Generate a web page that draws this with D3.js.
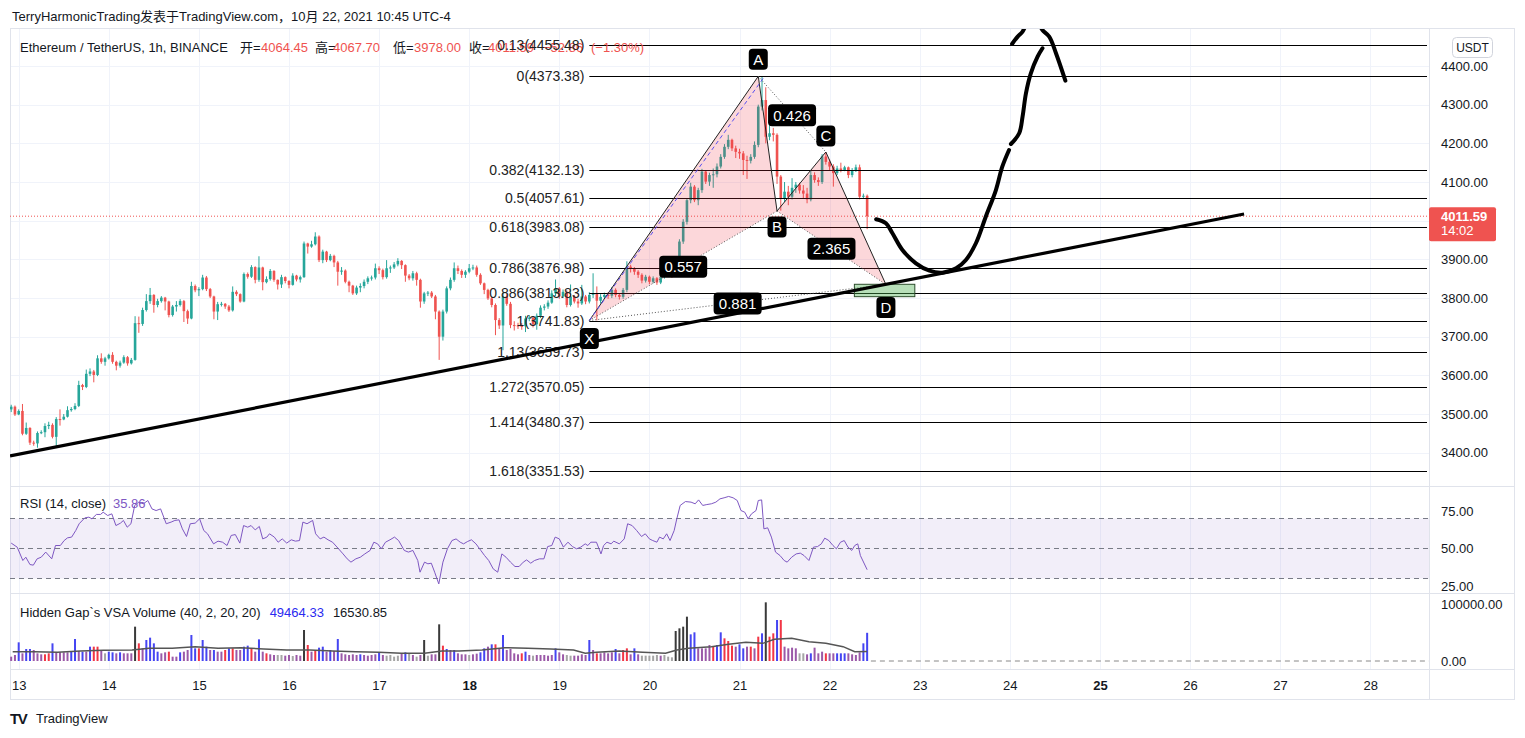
<!DOCTYPE html>
<html><head><meta charset="utf-8">
<script src="https://cdn.jsdelivr.net/npm/d3@7"></script>
<style>
body{margin:0;background:#fff;}
svg{display:block;font-family:"Liberation Sans",Arial,"Noto Sans CJK SC",sans-serif;}
</style></head>
<body><svg id="chart" width="1525" height="738"></svg>
<script>
// ---------------- DATA ----------------
const firstOpen = 3512;
const closes = [
3519,3499,3508,3449,3464,3426,3424,3451,3453,3469,
3472,3441,3487,3486,3493,3510,3513,3521,3575,3570,
3604,3610,3601,3644,3635,3644,3653,3635,3625,3633,
3647,3631,3640,3735,3733,3769,3792,3808,3782,3792,
3801,3791,3756,3778,3782,3792,3766,3747,3831,3820,
3823,3853,3823,3804,3765,3784,3785,3778,3768,3816,
3810,3791,3862,3855,3880,3847,3879,3841,3849,3870,
3847,3835,3854,3844,3834,3858,3848,3854,3941,3933,
3939,3959,3898,3920,3898,3909,3892,3868,3871,3842,
3832,3812,3827,3831,3842,3851,3853,3877,3872,3854,
3877,3879,3887,3896,3885,3858,3851,3864,3847,3791,
3812,3814,3804,3765,3700,3765,3825,3847,3877,3870,
3860,3868,3877,3879,3860,3838,3821,3799,3782,3743,
3729,3804,3785,3730,3729,3728,3727,3747,3749,3732,
3754,3775,3778,3788,3812,3825,3804,3816,3782,3804,
3791,3786,3804,3791,3808,3812,3793,3803,3808,3806,
3821,3808,3803,3821,3881,3877,3868,3860,3845,3855,
3842,3851,3840,3855,3864,3868,3860,3874,3946,3997,
4053,4088,4053,4079,4127,4101,4118,4120,4140,4165,
4191,4209,4187,4178,4174,4157,4155,4165,4196,4295,
4312,4217,4226,4222,4114,4058,4075,4062,4085,4093,
4078,4070,4055,4118,4105,4100,4166,4152,4140,4123,
4135,4131,4138,4118,4130,4138,4062,4064.45,4011.59];
const highs = [
3524,3522,3512,3526,3478,3466,3431,3455,3458,3476,
3480,3476,3492,3512,3500,3520,3518,3528,3586,3578,
3615,3618,3614,3652,3657,3648,3656,3660,3638,3638,
3652,3650,3645,3753,3752,3775,3810,3826,3810,3798,
3805,3803,3793,3782,3792,3797,3795,3770,3842,3835,
3828,3860,3857,3826,3806,3790,3790,3787,3782,3830,
3820,3812,3866,3866,3885,3882,3908,3881,3856,3875,
3872,3848,3860,3856,3846,3864,3860,3858,3946,3943,
3948,3970,3962,3925,3922,3914,3912,3896,3880,3874,
3845,3834,3832,3838,3848,3856,3858,3889,3882,3876,
3898,3884,3893,3903,3898,3887,3862,3870,3868,3850,
3816,3818,3818,3808,3768,3770,3830,3853,3892,3884,
3874,3872,3888,3886,3884,3864,3840,3824,3803,3786,
3748,3815,3810,3790,3740,3736,3735,3754,3756,3752,
3760,3781,3784,3794,3820,3848,3828,3822,3820,3835,
3808,3798,3834,3808,3815,3864,3830,3810,3814,3815,
3828,3825,3812,3826,3895,3886,3880,3872,3864,3860,
3858,3856,3854,3860,3868,3874,3872,3880,3952,4004,
4058,4098,4092,4085,4134,4130,4124,4135,4148,4172,
4198,4222,4212,4194,4186,4180,4168,4172,4205,4300,
4373.38,4345,4282,4240,4226,4118,4100,4090,4110,4100,
4098,4092,4085,4130,4125,4112,4172,4177.6,4158,4146,
4142,4150,4142,4140,4136,4145,4145,4070,4067.70];
const lows = [
3505,3495,3497,3445,3446,3420,3418,3413,3448,3440,
3461,3437,3413,3470,3484,3491,3506,3510,3518,3562,
3567,3598,3582,3598,3630,3625,3641,3630,3613,3620,
3630,3625,3628,3638,3710,3728,3765,3785,3762,3776,
3788,3768,3750,3752,3765,3778,3738,3733,3745,3815,
3805,3820,3818,3800,3745,3743,3778,3772,3764,3765,
3805,3788,3789,3850,3852,3838,3842,3820,3838,3845,
3842,3822,3826,3838,3825,3832,3843,3840,3852,3915,
3930,3936,3893,3890,3893,3895,3880,3832,3860,3838,
3815,3808,3808,3815,3825,3836,3845,3848,3862,3848,
3850,3865,3875,3882,3875,3842,3846,3845,3832,3775,
3785,3805,3800,3745,3640,3690,3760,3820,3842,3862,
3852,3852,3864,3872,3855,3834,3810,3795,3776,3704,
3720,3665,3780,3722,3716,3720,3718,3712,3740,3724,
3718,3748,3768,3772,3785,3805,3798,3800,3776,3778,
3786,3775,3782,3784,3786,3800,3742,3786,3798,3798,
3800,3802,3796,3798,3815,3866,3860,3852,3838,3840,
3836,3838,3834,3836,3850,3858,3852,3856,3870,3940,
3990,4045,4048,4040,4072,4095,4090,4085,4112,4135,
4160,4185,4180,4162,4160,4118,4108,4148,4160,4190,
4285,4200,4208,4205,4095,4026,4048,4040,4055,4072,
4070,4058,4045,4050,4098,4090,4095,4145,4130,4088,
4118,4125,4128,4110,4112,4126,4055,4058,3978.00];

const volumes = [
7600,10530,32750,13450,21050,21050,19300,13450,11700,11700,13450,
30990,15200,15200,15200,15200,16370,38600,17540,16370,16370,25150,
25150,25150,17540,13450,16370,15200,13450,15200,13450,13450,13450,
60230,30990,22220,36840,40940,30990,16370,13450,15200,16370,7600,7600,
15200,16370,19300,45610,22220,22220,36840,25150,19300,19300,16370,
16370,19300,22220,22220,19300,19300,25150,26900,22220,16370,
38010,16370,13450,11700,10530,10530,10530,9360,10530,8770,10530,9360,
54390,28070,16370,19300,23390,25150,16370,19300,17540,38600,13450,
11700,10530,11700,10530,11700,10530,9360,10530,11700,15200,10530,
9360,10530,7600,9360,13450,15200,13450,10530,7600,10530,36840,
9360,11700,11700,64330,26900,21050,19300,19300,13450,11700,11700,
10530,11700,12870,15200,22220,25150,29240,29240,22220,45610,19300,
21050,13450,11700,13450,16370,10530,9360,10530,10530,10530,9360,
10530,22220,15200,11700,10530,9360,9360,9360,11700,10530,
36840,19300,13450,13450,15200,13450,15200,21050,13450,19300,22220,11700,
22220,11700,9360,9360,9360,9360,10530,9360,10530,7600,6430,
52630,57310,60230,77780,46780,50300,22220,22220,22220,28070,25150,
28070,50300,39770,35090,26900,25150,29240,22220,25150,25150,22220,
42690,48540,102920,42690,48540,71930,71930,25150,22220,23390,22220,
13450,13450,11700,13450,23390,13450,16370,13450,13450,13450,13450,
13450,13450,13450,11700,10530,15200,30990,49464.33];
const volumeKinds =
"ppbpbbppprr"+"bppppbbpbpb"+"rrpgbbpbppp"+"krpbbbbpprpp"+"bppbbrbbpbp"+"prbrppbbrp"+
"bprppggppgpp"+"krprbbpbpbp"+"ppppbppppbp"+"ggggpbgpgpk"+"gppkrbpbppp"+"gppbbpbrpbp"+
"ppprbpgpppp"+"pbppggpppp"+"bprppppbprrp"+"bpgggggpggg"+"kkkkbbppppr"+"bbrrrpbbprp"+
"rbkrrbrpppp"+"ggpbppprppb"+"bbppppbb";

const maHours = [-1.6,4.2,10.3,16.4,22.5,30.2,34.7,40.9,47,53.1,59.2,65.3,71.4,77.5,83.6,89.8,95.9,102,108.1,112.7,117.3,123.4,129.5,135.6,141.7,147.8,150.9,153.9,160,166.2,172.3,175.3,178.4,184.5,189.1,193.7,198.2,201.3,205.9,210.5,215,219.6,222.7,226];
const maValues = [16370,16370,15200,17540,18700,19300,22220,22220,25150,22220,23390,21050,19300,19300,17540,16370,15200,13450,13450,17540,17540,19300,23390,22220,21050,19300,13450,15200,17540,15200,13450,19300,22220,25150,29240,32750,30990,38010,39770,33920,30990,25150,16370,16530.85];

const rsiHours = [-2,-0.4,1.1,1.9,3,3.9,4.9,6,7.2,8.8,9.8,11.1,12.1,13,14.1,15.2,16.1,17.6,18.7,19.5,20.7,21.8,22.5,23.7,24.8,25.9,27.1,27.9,28.9,29.9,30.9,32,33.2,34.4,35.5,36.6,37.8,39.3,40.6,41.6,42.7,43.6,44.7,45.7,47,48.2,49.3,50.3,51.9,53.1,54.3,55.5,56.6,57.7,58.9,59.9,61,61.9,63,64.1,65,66.1,66.8,68.1,69.1,70.2,71.4,72.6,73.7,74.8,75.7,76.8,78.3,79.1,80.3,81.3,82.4,83.6,85.2,86.4,87.5,88.5,89.8,91,92.2,93.6,94.6,95.6,96.6,97.7,98.9,100.1,101.2,102.7,103.8,105,106.3,106.9,108.1,109,109.9,110.8,111.9,113,114.2,115.4,116.5,117.6,118.5,119.6,120.6,121.8,123.1,124.1,125.2,126.4,127.6,128.7,129.8,131,132.2,133.3,134.4,135.3,136.4,137.4,138.7,139.9,140.9,142,142.9,144,145.1,146.3,147.5,148.6,149.7,150.9,151.6,152.4,153.9,155.1,155.8,156.7,157.8,158.5,160,161.3,162.2,163.4,164.6,165.9,166.9,168,168.9,170,170.7,171.7,172.6,173.5,174.6,175.3,176.2,177.6,179.1,180.2,181.1,182.2,183.3,184.5,185.7,186.8,187.9,189.1,190.3,191.4,192.4,193.4,194.3,195.2,196.4,197,197.9,198.5,199.5,200.5,201.6,202.8,203.9,204.7,205.9,207.1,208.2,209.2,210.5,211.7,212.8,213.8,214.7,215.8,216.9,217.8,218.9,219.9,220.9,221.9,222.7,223.5,224.2,226];
const rsiValues = [53.6,50.9,42.0,44.2,39.3,38.9,43.1,44.2,47.6,43.1,52.0,52.0,55.3,57.1,57.6,62.0,66.5,70.4,70.9,69.8,72.7,72.7,74.2,72.0,73.1,65.3,66.9,68.7,64.2,66.5,78.7,80.9,79.8,82.0,76.4,75.3,76.4,66.5,67.6,68.7,69.1,63.1,58.0,66.5,66.9,69.8,62.0,59.8,53.1,54.9,54.2,52.0,58.7,59.3,53.6,65.3,64.2,65.3,62.4,64.7,56.4,57.6,59.8,57.6,54.2,56.4,53.6,55.8,54.9,55.3,67.6,66.5,68.7,59.8,56.4,57.6,55.8,54.2,49.8,46.4,43.1,40.9,43.1,44.2,46.4,48.7,54.2,53.1,49.8,54.2,55.8,57.6,55.3,48.7,47.6,48.7,42.0,34.2,40.9,39.8,40.2,34.2,26.4,40.9,49.8,55.3,56.4,54.2,53.1,54.7,55.8,53.1,48.7,45.3,42.0,36.4,34.2,46.4,44.2,40.9,38.0,38.0,40.9,42.4,40.2,42.0,43.1,43.1,51.3,52.0,57.6,56.4,50.9,54.2,51.3,49.8,50.9,53.1,52.0,54.2,54.2,46.4,52.0,54.2,53.1,54.9,53.1,56.4,66.5,65.3,62.0,58.0,59.8,56.4,55.3,54.2,57.6,56.4,59.8,55.3,62.0,69.8,78.7,81.3,80.9,79.8,82.4,78.7,79.3,79.8,80.9,83.1,83.8,84.7,83.8,82.0,75.3,74.2,69.8,73.1,75.3,82.0,82.4,63.1,63.8,57.6,47.6,45.3,42.0,40.9,44.2,46.4,46.9,45.3,42.0,50.9,51.3,53.1,56.9,55.3,52.0,49.8,54.2,55.3,50.9,48.7,52.0,53.1,45.3,35.86];

const fibRatios = ["0.13","0","0.382","0.5","0.618","0.786","0.886","1","1.13","1.272","1.414","1.618"];
const fibPrices = [4455.48,4373.38,4132.13,4057.61,3983.08,3876.98,3813.83,3741.83,3659.73,3570.05,3480.37,3351.53];

const patternNames = ["X","A","B","C","D"];
const patternHours = [152,197,202,215,231];
const patternPrices = [3741.83,4373.38,4025,4177.6,3835];
const ratioLabels = ["0.557","0.426","2.365","0.881"];

const trendHours = [-2.3,326.4];
const trendPrices = [3391.5,4017.3];
const dashHours = [152,198.6];
const dashPrices = [3741.83,4372];
const boxHours = [222.6,238.7];
const boxPrices = [3803.5,3835.5];
const draw1Hours = [228.4,231,232.7,235.4,239,242.6,246,249.7,252.3,255,257.6,260.3,262,263.8];
const draw1Prices = [4003.6,3993.2,3968.1,3924.2,3889.8,3870.6,3865.5,3876.8,3898.3,3942.3,4010.3,4079.3,4139.6,4182.8];
const draw2Hours = [264.3,266.5,267.4,268.3,269.6,271.4,272.7];
const draw2Prices = [4198.3,4226,4268.9,4329.4,4381.1,4424.1,4445.8];
const draw3Hours = [264.6,266.1,267.4,268.8,270.2,271.6,272.7,274.5,276.3,278.8];
const draw3Prices = [4457,4476,4489,4515,4525,4512,4493,4476,4433,4362];

const priceTicks = [3400,3500,3600,3700,3800,3900,4100,4200,4300,4400];
const gridPrices = [3400,3500,3600,3700,3800,3900,4000,4100,4200,4300,4400];
const rsiTicks = [25,50,75];
const volTicks = [0,100000];
const lastPrice = 4011.59;

// ---------------- LAYOUT ----------------
const L = 10, R = 1429, RR = 1514;
const mainT = 29, mainB = 486, rsiT = 487, rsiB = 593, volT = 595, volB = 669, axB = 700;
const TXT = "#131722";
const svg = d3.select("#chart");
const base = Date.UTC(2021, 9, 13);
const hr = h => new Date(base + h * 3600e3);
const x = d3.scaleUtc().domain([hr(0), hr(360)]).range([18.7, 1370.2]);
const y = d3.scaleLinear().domain([3400, 4400]).range([452.7, 66]);
const yR = d3.scaleLinear().domain([25, 75]).range([586, 511]);
const yV = d3.scaleLinear().domain([0, 100000]).range([661, 604]);
const xt = h => x(hr(h));

const defs = svg.append("defs");
function clip(id, x0, y0, x1, y1) {
  defs.append("clipPath").attr("id", id).append("rect")
    .attr("x", x0).attr("y", y0).attr("width", x1 - x0).attr("height", y1 - y0);
}
clip("cMain", L, mainT, R, mainB);
clip("cRsi", L, rsiT, R, rsiB);
clip("cVol", L, volT, R, volB);

svg.append("rect").attr("width", 1525).attr("height", 738).attr("fill", "#fff");

// grid
const days = d3.utcDay.range(hr(0), hr(361));
const grid = svg.append("g").attr("stroke", "#f0f3fa").attr("stroke-width", 1);
days.forEach(d => grid.append("line").attr("x1", Math.round(x(d)) + 0.5).attr("x2", Math.round(x(d)) + 0.5).attr("y1", mainT).attr("y2", volB));
gridPrices.forEach(p => grid.append("line").attr("x1", L).attr("x2", R).attr("y1", Math.round(y(p)) + 0.5).attr("y2", Math.round(y(p)) + 0.5));

// frame
const fr = svg.append("g").attr("stroke", "#e0e3eb").attr("fill", "none");
fr.append("rect").attr("x", L + 0.5).attr("y", mainT - 0.5).attr("width", RR - L).attr("height", axB - mainT);
[mainB + 0.5, volT - 1.5, volB + 0.5].forEach(v => fr.append("line").attr("x1", L).attr("x2", RR).attr("y1", v).attr("y2", v));
fr.append("line").attr("x1", R + 0.5).attr("x2", R + 0.5).attr("y1", mainT).attr("y2", axB);

// ---------------- MAIN PANE ----------------
const main = svg.append("g").attr("clip-path", "url(#cMain)");
const candles = closes.map((c, i) => ({
  t: i - 2, o: i === 0 ? firstOpen : closes[i - 1], c, h: highs[i], l: lows[i]
}));
const cg = main.append("g");
candles.forEach(d => {
  const cx = xt(d.t);
  const col = d.c >= d.o ? "#26a69a" : "#ef5350";
  cg.append("line").attr("x1", cx).attr("x2", cx).attr("y1", y(d.h)).attr("y2", y(d.l))
    .attr("stroke", col).attr("stroke-width", 1);
  const top = y(Math.max(d.o, d.c)), bot = y(Math.min(d.o, d.c));
  cg.append("rect").attr("x", cx - 1.3).attr("width", 2.6).attr("y", top)
    .attr("height", Math.max(1, bot - top)).attr("fill", col);
});

// last price dotted line
main.append("line").attr("x1", L).attr("x2", R).attr("y1", y(lastPrice)).attr("y2", y(lastPrice))
  .attr("stroke", "#ef5350").attr("stroke-dasharray", "1,2");

// fib levels
const fx0 = xt(patternHours[0]);
fibPrices.forEach((p, i) => {
  main.append("line").attr("x1", fx0).attr("x2", R - 2).attr("y1", Math.round(y(p)) + 0.5).attr("y2", Math.round(y(p)) + 0.5)
    .attr("stroke", "#000").attr("stroke-width", 1);
  if (i > 0) main.append("text").attr("x", fx0 - 5).attr("y", y(p)).attr("dy", "0.36em").attr("text-anchor", "end")
    .attr("font-size", 14).attr("fill", "#222").text(`${fibRatios[i]}(${p.toFixed(2)})`);
});

// pattern
const P = patternHours.map((h, i) => [xt(h), y(patternPrices[i])]);
const pf = "rgba(242,54,69,0.2)";
main.append("path").attr("d", d3.line()([P[0], P[1], P[2]]) + "Z").attr("fill", pf);
main.append("path").attr("d", d3.line()([P[2], P[3], P[4]]) + "Z").attr("fill", pf);
main.append("path").attr("d", d3.line()([P[0], P[1], P[2], P[3], P[4]])).attr("fill", "none")
  .attr("stroke", "#222").attr("stroke-width", 1);
[[0, 2], [1, 3], [2, 4], [0, 4]].forEach(([a, b]) =>
  main.append("line").attr("x1", P[a][0]).attr("y1", P[a][1]).attr("x2", P[b][0]).attr("y2", P[b][1])
    .attr("stroke", "#555").attr("stroke-dasharray", "1,2"));
main.append("line").attr("x1", xt(dashHours[0])).attr("y1", y(dashPrices[0]))
  .attr("x2", xt(dashHours[1])).attr("y2", y(dashPrices[1]))
  .attr("stroke", "#5a4ff0").attr("stroke-dasharray", "4,3");

// green box
main.append("rect").attr("x", xt(boxHours[0])).attr("y", y(boxPrices[1]))
  .attr("width", xt(boxHours[1]) - xt(boxHours[0])).attr("height", y(boxPrices[0]) - y(boxPrices[1]))
  .attr("fill", "rgba(76,175,80,0.4)").attr("stroke", "#2d4d2d").attr("stroke-width", 1);

// trend line
main.append("line").attr("x1", xt(trendHours[0])).attr("y1", y(trendPrices[0]))
  .attr("x2", xt(trendHours[1])).attr("y2", y(trendPrices[1]))
  .attr("stroke", "#000").attr("stroke-width", 3.2);

// hand drawing
const dl = d3.line().curve(d3.curveCatmullRom.alpha(0.5));
[[draw1Hours, draw1Prices], [draw2Hours, draw2Prices], [draw3Hours, draw3Prices]].forEach(([hs, ps]) =>
  main.append("path").attr("d", dl(hs.map((h, i) => [xt(h), y(ps[i])])))
    .attr("fill", "none").attr("stroke", "#000").attr("stroke-width", 4).attr("stroke-linecap", "round"));

// labels
function tag(g, cx, cy, text, w, h) {
  g.append("rect").attr("x", cx - w / 2).attr("y", cy - h / 2).attr("width", w).attr("height", h)
    .attr("rx", 4).attr("fill", "#000");
  g.append("text").attr("x", cx).attr("y", cy).attr("dy", "0.36em").attr("text-anchor", "middle")
    .attr("fill", "#fff").attr("font-size", 15).text(text);
}
const lab = svg.append("g").attr("clip-path", "url(#cMain)");
[[0, 2], [1, 3], [2, 4], [0, 4]].forEach(([a, b], i) =>
  tag(lab, (P[a][0] + P[b][0]) / 2, (P[a][1] + P[b][1]) / 2 + 1, ratioLabels[i], 48, 22));
const letterOff = [18, -17, 16, -16, 23];
P.forEach((p, i) => tag(lab, p[0], p[1] + letterOff[i], patternNames[i], 19, 21));

// ---------------- RSI ----------------
const rsi = svg.append("g").attr("clip-path", "url(#cRsi)");
rsi.append("rect").attr("x", L).attr("width", R - L).attr("y", yR(70)).attr("height", yR(30) - yR(70))
  .attr("fill", "rgba(126,87,194,0.1)");
[70, 50, 30].forEach(v => rsi.append("line").attr("x1", L).attr("x2", R).attr("y1", yR(v)).attr("y2", yR(v))
  .attr("stroke", "#787b86").attr("stroke-dasharray", "5,4"));
rsi.append("path").attr("d", d3.line()(rsiHours.map((h, i) => [xt(h), yR(rsiValues[i])])))
  .attr("fill", "none").attr("stroke", "#7e57c2").attr("stroke-width", 1);

// ---------------- VOLUME ----------------
const vol = svg.append("g").attr("clip-path", "url(#cVol)");
const vc = { p: "#9b59a8", b: "#4545f2", r: "#f23645", g: "#a5a5a5", k: "#3a3a3a" };
volumes.forEach((v, i) => {
  const cx = xt(i - 2);
  vol.append("rect").attr("x", cx - 1).attr("width", 2).attr("y", yV(v)).attr("height", yV(0) - yV(v))
    .attr("fill", vc[volumeKinds[i]]);
});
vol.append("path").attr("d", d3.line()(maHours.map((h, i) => [xt(h), yV(maValues[i])])))
  .attr("fill", "none").attr("stroke", "#555").attr("stroke-width", 1.5);
vol.append("line").attr("x1", xt(227)).attr("x2", R).attr("y1", yV(0)).attr("y2", yV(0))
  .attr("stroke", "#888").attr("stroke-dasharray", "5,4");

// ---------------- AXES ----------------
function styleAxis(g) {
  g.select(".domain").remove();
  g.selectAll("text").attr("font-size", 13).attr("fill", TXT)
    .attr("font-family", "Liberation Sans, Arial, sans-serif");
}
svg.append("g").attr("transform", `translate(${R},0)`)
  .call(d3.axisRight(y).tickValues(priceTicks).tickFormat(d3.format(".2f")).tickSize(0).tickPadding(12)).call(styleAxis);
svg.append("g").attr("transform", `translate(${R},0)`)
  .call(d3.axisRight(yR).tickValues(rsiTicks).tickFormat(d3.format(".2f")).tickSize(0).tickPadding(12)).call(styleAxis);
svg.append("g").attr("transform", `translate(${R},0)`)
  .call(d3.axisRight(yV).tickValues(volTicks).tickFormat(d3.format(".2f")).tickSize(0).tickPadding(12)).call(styleAxis);
const xa = svg.append("g").attr("transform", `translate(0,${volB})`)
  .call(d3.axisBottom(x).tickValues(days).tickFormat(d3.utcFormat("%-d")).tickSize(0).tickPadding(12)).call(styleAxis);
xa.selectAll(".tick text").filter(d => d.getUTCDay() === 1).attr("font-weight", "bold");

// price tag
const tg = svg.append("g");
tg.append("rect").attr("x", R).attr("y", y(lastPrice) - 9).attr("width", 67).attr("height", 34).attr("rx", 2).attr("fill", "#ef5350");
tg.append("text").attr("x", R + 12).attr("y", y(lastPrice) + 4.5).attr("fill", "#fff").attr("font-size", 13).attr("font-weight", "bold").text(lastPrice.toFixed(2));
tg.append("text").attr("x", R + 12).attr("y", y(lastPrice) + 19).attr("fill", "#fff").attr("font-size", 13).text("14:02");

// USDT
svg.append("rect").attr("x", 1452.5).attr("y", 37.5).attr("width", 40).attr("height", 20).attr("rx", 4)
  .attr("fill", "#fff").attr("stroke", "#d1d4dc");
svg.append("text").attr("x", 1472.5).attr("y", 52).attr("text-anchor", "middle").attr("font-size", 12).attr("fill", TXT).text("USDT");

// ---------------- TEXT ----------------
svg.append("text").attr("x", 12).attr("y", 21).attr("font-size", 13).attr("fill", TXT)
  .text("TerryHarmonicTrading发表于TradingView.com，10月 22, 2021 10:45 UTC-4");
const hdr = [
  ["Ethereum / TetherUS, 1h, BINANCE", 20, TXT], ["开=", 240, TXT], ["4064.45", 261, "#ef5350"],
  ["高=", 315, TXT], ["4067.70", 333, "#ef5350"], ["低=", 393, TXT], ["3978.00", 414, "#ef5350"],
  ["收=", 469, TXT], ["4011.59", 488, "#ef5350"], ["−52.86", 543, "#ef5350"], ["(−1.30%)", 591, "#ef5350"]];
const hg = svg.append("g");
hdr.forEach(([t, xx, c]) => hg.append("text").attr("x", xx).attr("y", 52).attr("font-size", 13).attr("fill", c).text(t));
// top fib label drawn over the header, as in the source
svg.append("text").attr("x", fx0 - 5).attr("y", y(fibPrices[0])).attr("dy", "0.36em").attr("text-anchor", "end")
  .attr("font-size", 14).attr("fill", "#222").text(`${fibRatios[0]}(${fibPrices[0].toFixed(2)})`);

const rl = svg.append("text").attr("x", 20).attr("y", 508).attr("font-size", 13).attr("fill", TXT);
rl.append("tspan").text("RSI (14, close)");
rl.append("tspan").attr("dx", 7).attr("fill", "#7e57c2").text(rsiValues[rsiValues.length - 1].toFixed(2));
const vl = svg.append("text").attr("x", 20).attr("y", 617).attr("font-size", 13).attr("fill", TXT);
vl.append("tspan").text("Hidden Gap`s VSA Volume (40, 2, 20, 20)");
vl.append("tspan").attr("dx", 9).attr("fill", "#2a2af0").text(volumes[volumes.length - 1].toFixed(2));
vl.append("tspan").attr("dx", 9).text(maValues[maValues.length - 1].toFixed(2));

// logo
svg.append("text").attr("x", 10).attr("y", 724).attr("font-size", 15).attr("font-weight", 900)
  .attr("letter-spacing", -1.5).attr("fill", TXT).text("TV");
svg.append("text").attr("x", 36).attr("y", 723).attr("font-size", 13).attr("fill", TXT).text("TradingView");
</script>
</body></html>
